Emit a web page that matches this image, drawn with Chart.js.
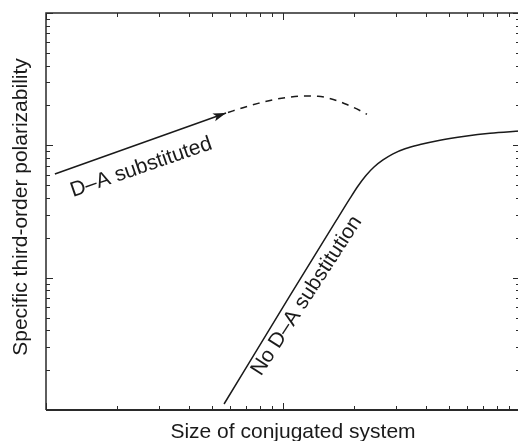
<!DOCTYPE html>
<html>
<head>
<meta charset="utf-8">
<script src="https://cdn.jsdelivr.net/npm/chart.js@4.4.1/dist/chart.umd.min.js"></script>
<style>
  html, body { margin: 0; padding: 0; background: #fff; overflow: hidden; }
  canvas { display: block; }
</style>
</head>
<body>
<canvas id="chart" width="520" height="441"></canvas>
<script>
// log-log sketch, no numbers on the axes, values are read off the picture
const xTicks = [1, 2, 3, 4, 5, 6, 7, 8, 9, 10, 20, 30, 40, 50, 60, 70, 80, 90, 100];
const yTicks = [1, 2, 3, 4, 5, 6, 7, 8, 9, 10, 20, 30, 40, 50, 60, 70, 80, 90,
                100, 200, 300, 400, 500, 600, 700, 800, 900, 1000];
const majorTicks = [1, 10, 100, 1000];

// D-A substituted, solid part with arrow
const daSolidX = [1.09, 5.75];
const daSolidY = [60.7, 175.5];

// D-A substituted, dashed continuation
const daDashX = [5.86, 6.78, 7.85, 9.07, 10.5, 12.1, 14.05, 16.3, 18.6, 21.1, 22.6];
const daDashY = [177.1, 192.5, 207.5, 220.9, 230.7, 236.0, 234.8, 222.0, 203.5, 183.4, 171.7];

// No D-A substitution
const noDaX = [5.64, 10.7, 16.9, 19.2, 20.73, 22.39, 24.21, 26.42, 29.12, 32.72, 37.86, 45.97, 58.61, 74.7, 100];
const noDaY = [1.11, 7.31, 27.6, 39.9, 49.3, 59.2, 68.6, 77.5, 86.3, 94.2, 101.3, 109.4, 117.3, 123.5, 128.4];

const labels = [
    { text: 'D\u2013A substituted', x: 1.30, y: 40.7, angle: -19 },
    { text: 'No D\u2013A substitution', x: 8.08, y: 1.78, angle: -57 }
];

const xTitle = 'Size of conjugated system';
const yTitle = 'Specific third-order polarizability';

const ink = '#1a1a1a';
const titleFont = '21px "Liberation Sans", Arial, sans-serif';
const labelFont = '21px "Liberation Sans", Arial, sans-serif';

function toPoints(xs, ys) {
    return xs.map((v, i) => ({ x: v, y: ys[i] }));
}

const framePlugin = {
    id: 'frame',
    afterDatasetsDraw(chart) {
        // arrow head at the end of the solid D-A line
        const ctx = chart.ctx;
        const pts = chart.getDatasetMeta(0).data;
        const a = pts[0], b = pts[pts.length - 1];
        const ang = Math.atan2(b.y - a.y, b.x - a.x);
        ctx.save();
        ctx.translate(b.x, b.y);
        ctx.rotate(ang);
        ctx.fillStyle = ink;
        ctx.beginPath();
        ctx.moveTo(0, 0);
        ctx.lineTo(-13, -4.2);
        ctx.lineTo(-10, 0);
        ctx.lineTo(-13, 4.2);
        ctx.closePath();
        ctx.fill();
        ctx.restore();
    },
    afterDraw(chart) {
        const ctx = chart.ctx;
        const area = chart.chartArea;
        const x = chart.scales.x;
        const y = chart.scales.y;

        ctx.save();
        ctx.strokeStyle = '#2a2a2a';
        ctx.lineWidth = 1.5;
        ctx.beginPath();
        ctx.moveTo(area.right, area.top);
        ctx.lineTo(area.left, area.top);
        ctx.lineTo(area.left, area.bottom);
        ctx.stroke();
        ctx.lineWidth = 2;
        ctx.beginPath();
        ctx.moveTo(area.left, area.bottom);
        ctx.lineTo(area.right, area.bottom);
        ctx.stroke();

        // inward ticks on all four sides
        ctx.lineWidth = 1;
        ctx.beginPath();
        xTicks.forEach(v => {
            const px = Math.round(x.getPixelForValue(v)) + 0.5;
            const len = majorTicks.includes(v) ? 7 : 4;
            ctx.moveTo(px, area.bottom);
            ctx.lineTo(px, area.bottom - len);
            ctx.moveTo(px, area.top);
            ctx.lineTo(px, area.top + len);
        });
        yTicks.forEach(v => {
            const py = Math.round(y.getPixelForValue(v)) + 0.5;
            const len = majorTicks.includes(v) ? 7 : 4;
            ctx.moveTo(area.left, py);
            ctx.lineTo(area.left + len, py);
            ctx.moveTo(area.right, py);
            ctx.lineTo(area.right - len, py);
        });
        ctx.stroke();

        ctx.fillStyle = ink;
        ctx.textBaseline = 'alphabetic';

        // curve labels
        ctx.font = labelFont;
        ctx.textAlign = 'left';
        labels.forEach(l => {
            ctx.save();
            ctx.translate(x.getPixelForValue(l.x), y.getPixelForValue(l.y));
            ctx.rotate(l.angle * Math.PI / 180);
            ctx.fillText(l.text, 0, 0);
            ctx.restore();
        });

        // axis titles
        ctx.font = titleFont;
        ctx.textAlign = 'center';
        ctx.fillText(xTitle, 293, 438);
        ctx.save();
        ctx.translate(27, 207);
        ctx.rotate(-Math.PI / 2);
        ctx.fillText(yTitle, 0, 0);
        ctx.restore();
        ctx.restore();
    }
};

const ctx = document.getElementById('chart').getContext('2d');

new Chart(ctx, {
    type: 'line',
    data: {
        datasets: [{
            data: toPoints(daSolidX, daSolidY),
            borderColor: ink,
            borderWidth: 1.5,
            pointRadius: 0
        }, {
            data: toPoints(daDashX, daDashY),
            borderColor: ink,
            borderWidth: 1.5,
            borderDash: [7, 6],
            cubicInterpolationMode: 'monotone',
            pointRadius: 0
        }, {
            data: toPoints(noDaX, noDaY),
            borderColor: ink,
            borderWidth: 1.5,
            cubicInterpolationMode: 'monotone',
            pointRadius: 0
        }]
    },
    options: {
        responsive: false,
        animation: false,
        devicePixelRatio: 1,
        layout: { padding: { left: 46, top: 13, right: 0, bottom: 31 } },
        plugins: { legend: { display: false }, tooltip: { enabled: false } },
        scales: {
            x: { type: 'logarithmic', min: 1, max: 100, display: false },
            y: { type: 'logarithmic', min: 1, max: 1000, display: false }
        }
    },
    plugins: [framePlugin]
});
</script>
</body>
</html>
